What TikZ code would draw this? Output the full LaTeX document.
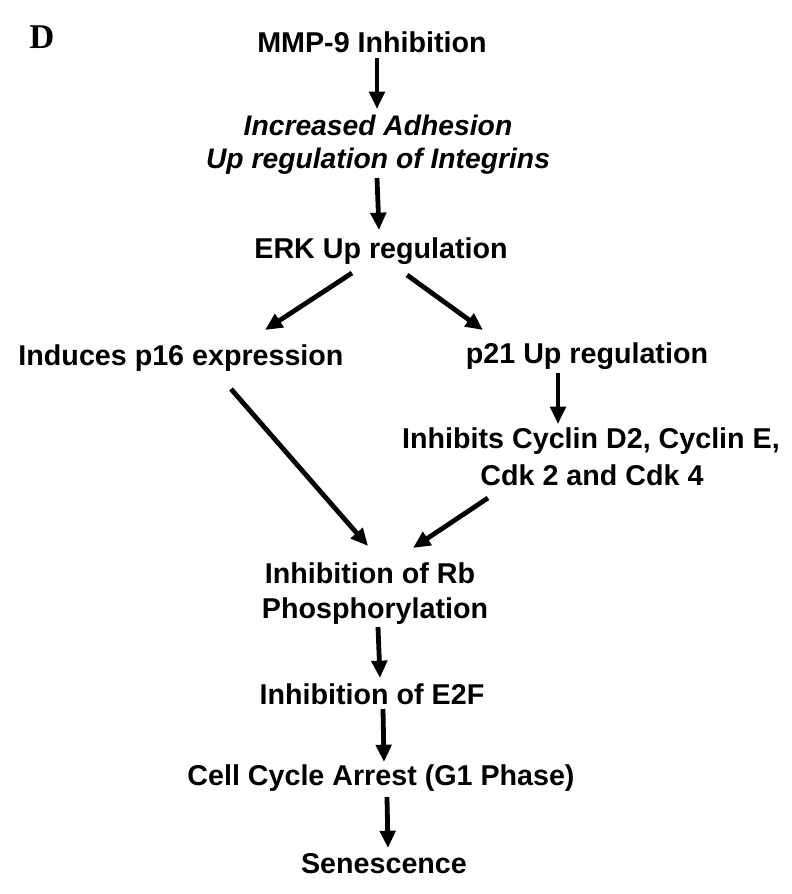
\documentclass[tikz,border=0pt]{standalone}
\usepackage{fontspec}
\setmainfont{Liberation Sans}
\newfontfamily\serifD{Liberation Serif}
\usetikzlibrary{arrows.meta,calc}
\tikzset{
  lbl/.style={inner sep=0pt, anchor=base, font=\fontsize{21.5}{24}\selectfont\bfseries},
  itlbl/.style={lbl, font=\fontsize{21.2}{24}\selectfont\bfseries\itshape},
  arr/.style={line width=3.6pt, -{Triangle[length=13pt,width=11.5pt]}},
}
\begin{document}
\begin{tikzpicture}[x=0.75pt,y=-0.75pt]
\useasboundingbox[fill=white] (0,0) rectangle (792,894);
\node[inner sep=0pt, anchor=base, font=\serifD\fontsize{26}{28}\selectfont\bfseries] (D) at (42,48) {D};
\node[lbl] (mmp) at (372,52) {MMP-9 Inhibition};
\node[itlbl] (adh) at (378,135) {Increased Adhesion};
\node[itlbl] (upr) at (378,168.5) {Up regulation of Integrins};
\node[lbl] (erk) at (381,258) {ERK Up regulation};
\node[lbl] (p16) at (181,365) {Induces p16 expression};
\node[lbl] (p21) at (587,363) {p21 Up regulation};
\node[lbl] (inh) at (591,448) {Inhibits Cyclin D2, Cyclin E,};
\node[lbl] (cdk) at (592,485) {Cdk 2 and Cdk 4};
\node[lbl] (rb) at (370,583) {Inhibition of Rb};
\node[lbl] (phos) at (375,618) {Phosphorylation};
\node[lbl] (e2f) at (372,704) {Inhibition of E2F};
\node[lbl] (cell) at (381,785) {Cell Cycle Arrest (G1 Phase)};
\node[lbl] (sen) at (384,873) {Senescence};
\draw[arr] ($(mmp.base)+(5,6)$) -- ($(adh.base)+(-1,-26)$);
\draw[arr] ($(upr.base)+(-1,9.5)$) -- ($(erk.base)+(-2,-28)$);
\draw[arr] ($(erk.base)+(-29,15)$) -- ($(p16.base)+(84,-35)$);
\draw[arr] ($(erk.base)+(26,17)$) -- ($(p21.base)+(-104,-33)$);
\draw[arr] ($(p21.base)+(-29,10)$) -- ($(inh.base)+(-33,-24)$);
\draw[arr] ($(p16.base)+(50,24)$) -- ($(rb.base)+(-2,-37)$);
\draw[arr] ($(cdk.base)+(-104,13)$) -- ($(rb.base)+(43,-35)$);
\draw[arr] ($(phos.base)+(3,9)$) -- ($(e2f.base)+(8,-26)$);
\draw[arr] ($(e2f.base)+(11,5)$) -- ($(cell.base)+(3,-23)$);
\draw[arr] ($(cell.base)+(6,12)$) -- ($(sen.base)+(4,-25)$);
\end{tikzpicture}
\end{document}
